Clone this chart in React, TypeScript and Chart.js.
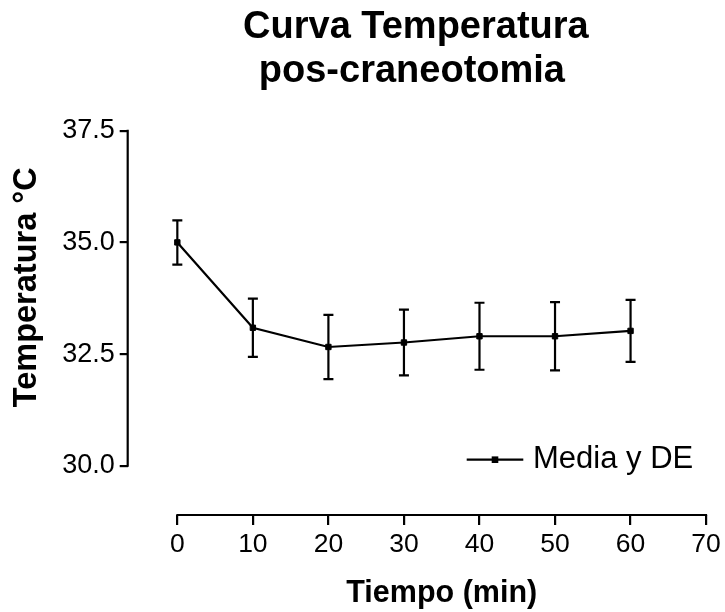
import { useEffect, useRef } from 'react';
import { Chart, registerables } from 'chart.js';

Chart.register(...registerables);

const TITLE_LINES = ['Curva Temperatura', 'pos-craneotomia'];
const X_TITLE = 'Tiempo (min)';
const Y_TITLE = 'Temperatura °C';
const SERIES_LABEL = 'Media y DE';

const timeMin = [0, 10, 20, 30, 40, 50, 60];
const meanTemp = [35.0, 33.09, 32.66, 32.76, 32.9, 32.9, 33.02];
const sdTemp = [0.495, 0.65, 0.72, 0.735, 0.75, 0.765, 0.695];

const xTicks = [0, 10, 20, 30, 40, 50, 60, 70];
const yTicks = [30.0, 32.5, 35.0, 37.5];

const FONT = "'Liberation Sans', Arial, Helvetica, sans-serif";
const W = 725;
const H = 612;

const prismPlugin = {
  id: 'prismDecor',
  beforeDatasetsDraw(chart: any) {
    const { ctx } = chart;
    const xs = chart.scales.x;
    const ys = chart.scales.y;
    ctx.save();
    ctx.strokeStyle = '#000';
    ctx.lineWidth = 2.2;
    ctx.lineCap = 'butt';
    const cap = 5;
    timeMin.forEach((t, i) => {
      const px = xs.getPixelForValue(t);
      const top = ys.getPixelForValue(meanTemp[i] + sdTemp[i]);
      const bot = ys.getPixelForValue(meanTemp[i] - sdTemp[i]);
      ctx.beginPath();
      ctx.moveTo(px, top);
      ctx.lineTo(px, bot);
      ctx.moveTo(px - cap, top);
      ctx.lineTo(px + cap, top);
      ctx.moveTo(px - cap, bot);
      ctx.lineTo(px + cap, bot);
      ctx.stroke();
    });
    ctx.restore();
  },
  afterDraw(chart: any) {
    const { ctx, chartArea } = chart;
    const xs = chart.scales.x;
    const ys = chart.scales.y;
    ctx.save();
    ctx.strokeStyle = '#000';
    ctx.fillStyle = '#000';
    ctx.lineWidth = 2.2;
    const x0 = xs.getPixelForValue(xTicks[0]);
    const x1 = xs.getPixelForValue(xTicks[xTicks.length - 1]);
    ctx.beginPath();
    ctx.moveTo(x0 - 1, chartArea.bottom);
    ctx.lineTo(x1 + 1, chartArea.bottom);
    ctx.stroke();
    const y0 = ys.getPixelForValue(yTicks[0]);
    const y1 = ys.getPixelForValue(yTicks[yTicks.length - 1]);
    ctx.beginPath();
    ctx.moveTo(chartArea.left, y0 + 1);
    ctx.lineTo(chartArea.left, y1 - 1);
    ctx.stroke();

    const cx = (chartArea.left + chartArea.right) / 2;
    ctx.font = `bold 38px ${FONT}`;
    ctx.textAlign = 'center';
    ctx.textBaseline = 'alphabetic';
    ctx.fillText(TITLE_LINES[0], cx - 1, 38);
    ctx.fillText(TITLE_LINES[1], cx - 5, 81.5);

    ctx.font = `bold 30.5px ${FONT}`;
    ctx.fillText(X_TITLE, (x0 + x1) / 2, 602);

    ctx.save();
    ctx.font = `bold 32.5px ${FONT}`;
    ctx.translate(36, (y0 + y1) / 2 - 11);
    ctx.rotate(-Math.PI / 2);
    ctx.fillText(Y_TITLE, 0, 0);
    ctx.restore();

    const ly = 459.7;
    const lx0 = 466.7;
    const lx1 = 523.3;
    ctx.beginPath();
    ctx.moveTo(lx0, ly);
    ctx.lineTo(lx1, ly);
    ctx.stroke();
    const mx = (lx0 + lx1) / 2;
    ctx.fillRect(mx - 3.3, ly - 3.3, 6.6, 6.6);
    ctx.font = `31px ${FONT}`;
    ctx.textAlign = 'left';
    ctx.fillText(SERIES_LABEL, 533, 467.5);
    ctx.restore();
  },
};

export default function App() {
  const ref = useRef<HTMLCanvasElement | null>(null);
  useEffect(() => {
    document.body.style.margin = '0';
    document.body.style.overflow = 'hidden';
    const canvas = ref.current;
    if (!canvas) return;
    const chart = new Chart(canvas, {
      type: 'line',
      data: {
        datasets: [
          {
            label: SERIES_LABEL,
            data: timeMin.map((t, i) => ({ x: t, y: meanTemp[i] })),
            borderColor: '#000',
            backgroundColor: '#000',
            borderWidth: 2.2,
            pointStyle: 'rect',
            pointRadius: 3.8,
            pointBorderWidth: 1,
            pointBackgroundColor: '#000',
            pointBorderColor: '#000',
            tension: 0,
            fill: false,
          },
        ],
      },
      options: {
        animation: false,
        responsive: false,
        maintainAspectRatio: false,
        layout: { padding: { top: 130.7, right: 18.9, left: 0, bottom: 0 } },
        plugins: {
          legend: { display: false },
          title: { display: false },
          tooltip: { enabled: false },
        },
        scales: {
          x: {
            type: 'linear',
            min: -6.57,
            max: 70,
            afterBuildTicks: (s: any) => {
              s.ticks = xTicks.map((v) => ({ value: v }));
            },
            afterFit: (s: any) => {
              s.height = 97;
            },
            border: { display: false },
            grid: {
              display: true,
              drawOnChartArea: false,
              drawTicks: true,
              tickLength: 10,
              color: '#000',
              lineWidth: 2.2,
            },
            ticks: {
              color: '#000',
              font: { family: FONT, size: 26.5 },
              padding: 4,
              maxRotation: 0,
              autoSkip: false,
              callback: (v: any) => String(v),
            },
          },
          y: {
            type: 'linear',
            min: 28.9,
            max: 37.5,
            afterBuildTicks: (s: any) => {
              s.ticks = yTicks.map((v) => ({ value: v }));
            },
            afterFit: (s: any) => {
              s.width = 127.7;
            },
            border: { display: false },
            grid: {
              display: true,
              drawOnChartArea: false,
              drawTicks: true,
              tickLength: 8,
              color: '#000',
              lineWidth: 2.2,
            },
            ticks: {
              color: '#000',
              font: { family: FONT, size: 27 },
              padding: 5,
              autoSkip: false,
              callback: (v: any) => Number(v).toFixed(1),
            },
          },
        },
      },
      plugins: [prismPlugin],
    });
    return () => chart.destroy();
  }, []);
  return (
    <div style={{ width: W, height: H }}>
      <canvas ref={ref} width={W} height={H} style={{ display: 'block' }} />
    </div>
  );
}
